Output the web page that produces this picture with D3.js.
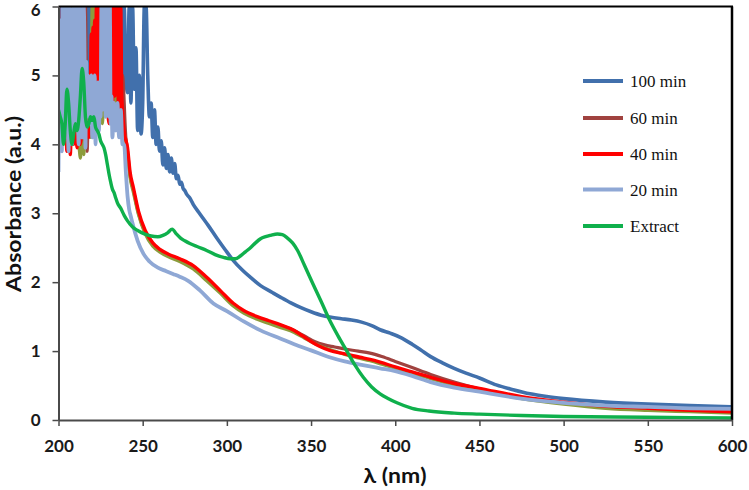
<!DOCTYPE html>
<html>
<head>
<meta charset="utf-8">
<script src="https://cdn.jsdelivr.net/npm/d3@7/dist/d3.min.js"></script>
<style>
  html, body { margin: 0; padding: 0; background: #fff; }
  svg { display: block; }
</style>
</head>
<body>
<svg id="chart" width="749" height="490"></svg>
<script>
// ---------- DATA ([wavelength nm, absorbance a.u.]) ----------
const yTicks = [0, 1, 2, 3, 4, 5, 6];
const xTicks = [200, 250, 300, 350, 400, 450, 500, 550, 600];
const seriesNames = ["100 min", "60 min", "40 min", "20 min", "Extract"];

const s100 = [[200,5.0],[201,6],[202,4.6],[203,6],[204,5.2],[205,6],[206,4.7],[207,6],[208,5.5],[209,6],[210,4.9],[211,6],[212,5.3],[213,6],[214,4.8],[215,6],[216,5.6],[217,6],[218,4.9],[219,6],[220,5.4],[221,6],[222,5.0],[223,6],[224,5.7],[225,6],[226,5.2],[227,6],[228,5.5],[229,6],[230,5.3],[231,6],[232,5.0],[233,6],[234,5.5],[235,6],[236,4.8],[237,6],[238,4.7],[239,6],[240,5.0],[241,4.75],[242,6],[243,4.6],[244,6],[245,4.8],[246,5.4],[247,4.2],[248,5.0],[249,4.15],[250,4.6],[251,6],[252,6],[253,5.0],[254,4.4],[255,4.6],[256,4.1],[257,4.5],[258,4.0],[259,4.25],[260,3.9],[261,4.05],[262,3.7],[263,3.95],[264,3.65],[265,3.85],[266,3.6],[267,3.8],[268,3.58],[269,3.72],[270,3.5],[271,3.55],[272,3.42],[273,3.45],[274,3.36],[275,3.33],[276,3.28],[278,3.22],[280,3.13],[284,2.99],[289,2.82],[294,2.64],[299,2.47],[304,2.31],[309,2.18],[314,2.07],[320,1.95],[327,1.85],[332,1.78],[338,1.7],[344,1.63],[350,1.57],[356,1.52],[362,1.49],[368,1.47],[374,1.45],[380,1.42],[386,1.37],[391,1.31],[397,1.26],[403,1.2],[410,1.1],[415,1.02],[421,0.92],[428,0.83],[435,0.75],[442,0.68],[450,0.61],[460,0.51],[470,0.44],[480,0.38],[490,0.34],[500,0.31],[525,0.26],[550,0.23],[575,0.21],[600,0.19]];

const s60 = [[200,5.2],[202,4.3],[204,5.5],[206,4.1],[208,5.0],[210,4.2],[212,5.5],[214,4.0],[216,6],[217,3.9],[218,4.8],[220,4.1],[222,5.2],[224,4.3],[226,6],[228,4.5],[230,6],[232,4.4],[234,6],[236,4.3],[238,5.0],[240,4.1],[241,3.9],[242.5,3.55],[244.5,3.33],[247.5,3.0],[251.5,2.72],[256,2.54],[260,2.46],[265,2.39],[272,2.32],[280,2.21],[288,2.04],[296,1.86],[304,1.67],[310,1.57],[318,1.48],[325,1.42],[332,1.37],[340,1.3],[346,1.22],[352,1.14],[358,1.09],[364,1.06],[370,1.03],[378,1.0],[385,0.97],[392,0.92],[400,0.85],[410,0.76],[421,0.66],[435,0.55],[450,0.45],[475,0.33],[500,0.25],[525,0.2],[550,0.16],[575,0.14],[600,0.13]];

const sOlive = [[200,5.0],[202,4.4],[204,5.8],[206,4.2],[208,6],[210,4.1],[212,4.0],[213,3.8],[214,4.05],[215,3.85],[216,4.6],[218,5.0],[219,4.1],[220,6.0],[220.5,5.4],[221,6.0],[221.5,5.3],[222,6.0],[222.5,4.6],[224,5.0],[226,4.3],[228,5.4],[230,4.4],[232,6],[234,4.5],[236,5.4],[238,4.3],[240,4.05],[241,3.85],[242.5,3.52],[244.5,3.3],[247.5,2.98],[251.5,2.7],[256,2.52],[260,2.44],[265,2.37],[272,2.3],[280,2.19],[288,2.02],[296,1.84],[304,1.65],[310,1.55],[318,1.46],[325,1.4],[332,1.34],[340,1.27],[346,1.19],[352,1.11],[358,1.05],[364,1.0],[370,0.95],[378,0.9],[385,0.86],[392,0.81],[400,0.75],[410,0.68],[421,0.6],[435,0.51],[450,0.43],[475,0.31],[500,0.23],[525,0.17],[550,0.14],[575,0.12],[600,0.1]];

const s40 = [[200,6.0],[201,4.9],[202,5.8],[203,4.2],[204,4.5],[205,3.9],[206,6.0],[207,3.85],[208,4.6],[209,4.0],[210,4.3],[211,3.95],[212,4.2],[213,4.0],[214,4.4],[215,6.0],[216,4.05],[217,5.0],[218,4.1],[219,5.0],[219.5,5.6],[220,4.8],[220.5,5.7],[221,5.0],[221.5,5.8],[222,4.7],[222.5,6.0],[223,5.0],[223.5,6.0],[224,4.8],[224.5,6.0],[225,5.0],[225.5,6.0],[226,4.6],[226.5,5.8],[227,6.0],[227.5,4.5],[228,4.6],[228.5,6.0],[229,6.0],[229.5,4.4],[230,4.3],[230.5,5.9],[231,5.8],[231.5,4.6],[232,4.5],[232.5,6.0],[233,6.0],[233.5,4.7],[234,4.8],[234.5,6.0],[235,6.0],[235.5,4.5],[236,4.4],[236.5,6.0],[237,6.0],[237.5,4.8],[238,4.5],[239,4.2],[241,3.95],[242.5,3.6],[244.5,3.37],[247.5,3.03],[251.5,2.75],[256,2.57],[260,2.48],[265,2.41],[272,2.34],[280,2.24],[288,2.07],[296,1.88],[304,1.69],[310,1.59],[318,1.5],[325,1.44],[332,1.38],[340,1.3],[345,1.22],[350,1.14],[355,1.07],[361,1.01],[370,0.96],[379,0.91],[385,0.88],[391,0.84],[400,0.77],[410,0.7],[421,0.62],[435,0.53],[450,0.46],[475,0.34],[500,0.26],[525,0.2],[550,0.17],[575,0.14],[600,0.12]];

const s20 = [[200,3.6],[200.5,5.2],[201,5.8],[201.5,4.3],[202,3.9],[202.5,6.0],[203,6.0],[203.5,4.6],[204,4.2],[204.5,5.7],[205,6.0],[205.5,4.4],[206,3.9],[206.5,6.0],[207,5.5],[207.5,4.7],[208,4.0],[208.5,5.8],[209,6.0],[209.5,4.8],[210,4.3],[210.5,6.0],[211,6.0],[211.5,4.5],[212,4.0],[212.5,6.0],[213,5.2],[213.5,4.6],[214,4.1],[214.5,5.9],[215,6.0],[215.5,5.3],[216,3.95],[216.5,5.2],[217,4.6],[217.5,5.0],[218,4.4],[218.5,4.9],[219,4.3],[219.5,5.0],[220,4.1],[220.5,4.8],[221,4.3],[221.5,5.0],[222,4.0],[222.5,4.7],[223,4.3],[223.5,4.9],[224,4.2],[224.5,4.6],[225,4.4],[225.5,6.0],[226,4.5],[226.5,6.0],[227,4.6],[227.5,6.0],[228,4.4],[228.5,6.0],[229,4.5],[229.5,6.0],[230,4.4],[230.5,6.0],[231,4.3],[231.5,4.7],[232,4.1],[233,4.6],[234,4.2],[235,4.6],[236,4.1],[237,4.5],[238,4.0],[239,4.0],[240,3.6],[241,3.25],[242,3.05],[243,2.95],[244,2.85],[247,2.6],[250.5,2.41],[254,2.3],[259,2.21],[264,2.16],[268,2.12],[272,2.08],[277,2.02],[284,1.88],[292,1.69],[300,1.58],[310,1.43],[320,1.3],[332,1.18],[340,1.1],[350,1.01],[361,0.91],[370,0.85],[380,0.8],[391,0.75],[400,0.71],[410,0.64],[421,0.55],[435,0.47],[450,0.41],[475,0.31],[500,0.25],[525,0.21],[550,0.19],[575,0.17],[600,0.16]];

const sExtract = [[200,4.5],[201,4.4],[202,4.3],[203,4.0],[204,4.3],[205,4.8],[206,4.6],[207,4.2],[208,4.0],[209,4.15],[210,4.3],[211,4.2],[212,4.35],[213,4.7],[214,5.1],[215,4.9],[216,4.4],[217,4.25],[218,4.3],[219,4.4],[220,4.35],[221,4.4],[222,4.25],[223,4.2],[224,4.15],[225,4.05],[226,4.0],[227,3.95],[228,3.85],[229,3.71],[230,3.57],[231,3.45],[232,3.35],[233,3.3],[234,3.22],[235,3.15],[237,3.07],[239,2.97],[241,2.89],[244,2.8],[247,2.75],[251,2.7],[255,2.67],[259,2.66],[262,2.68],[265,2.72],[267.5,2.77],[270,2.7],[272.5,2.64],[275,2.6],[278,2.56],[283,2.51],[288,2.46],[293,2.4],[298,2.36],[302,2.34],[305,2.34],[308,2.38],[311,2.44],[314,2.5],[317,2.57],[320,2.63],[323,2.66],[326,2.68],[330,2.7],[333,2.69],[336,2.64],[339,2.57],[342,2.46],[346,2.25],[351,1.98],[356,1.72],[361,1.45],[366,1.22],[371,1.01],[376,0.8],[381,0.62],[386,0.48],[391,0.38],[396,0.31],[401,0.25],[410,0.17],[420,0.13],[435,0.1],[450,0.085],[475,0.065],[500,0.05],[550,0.04],[600,0.03]];

// ---------- CHART ----------
const svg = d3.select("#chart");
const L = 58.5, R = 732, T = 6.5, B = 420;

const x = d3.scaleLinear().domain([200, 600]).range([L, R]);
const y = d3.scaleLinear().domain([0, 6]).range([B, T]);

svg.append("defs").append("clipPath").attr("id", "clip")
  .append("rect").attr("x", L).attr("y", T).attr("width", R - L).attr("height", B - T);

const lineGen = d3.line().x(d => x(d[0])).y(d => y(d[1])).curve(d3.curveMonotoneX);

const draw = [
  {data: s100, color: "#4170AC", w: 3.6},
  {data: s60, color: "#A0423F", w: 3.2},
  {data: sOlive, color: "#8C9C3C", w: 3.2},
  {data: s40, color: "#FF0000", w: 3.4},
  {data: s20, color: "#8FA8D5", w: 3.8},
  {data: sExtract, color: "#0FB04C", w: 3.4}
];

const g = svg.append("g").attr("clip-path", "url(#clip)");
draw.forEach(s => {
  g.append("path").datum(s.data)
    .attr("d", lineGen)
    .attr("fill", "none")
    .attr("stroke", s.color)
    .attr("stroke-width", s.w)
    .attr("stroke-linejoin", "round");
});

// frame top & right
svg.append("line").attr("x1", L).attr("x2", R + 1).attr("y1", T).attr("y2", T)
  .attr("stroke", "#000").attr("stroke-width", 2);
svg.append("line").attr("x1", R).attr("x2", R).attr("y1", T).attr("y2", B)
  .attr("stroke", "#000").attr("stroke-width", 2.5);

const tickFont = "Lato, 'Open Sans', sans-serif";

const yAxis = svg.append("g").attr("transform", `translate(${L},0)`)
  .call(d3.axisLeft(y).tickValues(yTicks).tickFormat(d3.format("d")).tickSize(6).tickPadding(12).tickSizeOuter(0));
const xAxis = svg.append("g").attr("transform", `translate(0,${B})`)
  .call(d3.axisBottom(x).tickValues(xTicks).tickFormat(d3.format("d")).tickSize(6).tickPadding(14).tickSizeOuter(0));

[yAxis, xAxis].forEach(a => {
  a.select(".domain").attr("stroke", "#4a4a4a").attr("stroke-width", 2);
  a.selectAll(".tick line").attr("stroke", "#4a4a4a").attr("stroke-width", 1.5);
  a.selectAll(".tick text").attr("fill", "#1a1a1a")
    .style("font-family", tickFont).style("font-weight", "bold").style("font-size", "17px");
});
// keep the top label inside the picture
yAxis.selectAll(".tick text").filter(d => d === 6).attr("y", 3.5);

// axis titles
svg.append("text")
  .attr("transform", "translate(20.5,204) rotate(-90)")
  .attr("text-anchor", "middle")
  .attr("textLength", 176).attr("lengthAdjust", "spacingAndGlyphs")
  .style("font-family", tickFont).style("font-weight", "bold").style("font-size", "20px")
  .attr("fill", "#111")
  .text("Absorbance (a.u.)");

svg.append("text")
  .attr("x", 395).attr("y", 483)
  .attr("text-anchor", "middle")
  .attr("textLength", 63).attr("lengthAdjust", "spacingAndGlyphs")
  .style("font-family", tickFont).style("font-weight", "bold").style("font-size", "21px")
  .attr("fill", "#111")
  .text("λ (nm)");

// legend
const legendColors = ["#4170AC", "#A0423F", "#FF0000", "#8FA8D5", "#0FB04C"];
const legendY = [81, 118, 154, 189.5, 226];
const lg = svg.append("g");
seriesNames.forEach((name, i) => {
  lg.append("line").attr("x1", 583).attr("x2", 623)
    .attr("y1", legendY[i]).attr("y2", legendY[i])
    .attr("stroke", legendColors[i]).attr("stroke-width", 4);
  lg.append("text").attr("x", 630).attr("y", legendY[i] + 6)
    .style("font-family", "'Liberation Serif', 'Times New Roman', serif")
    .style("font-size", "17px").attr("fill", "#111")
    .text(name);
});
</script>
</body>
</html>
